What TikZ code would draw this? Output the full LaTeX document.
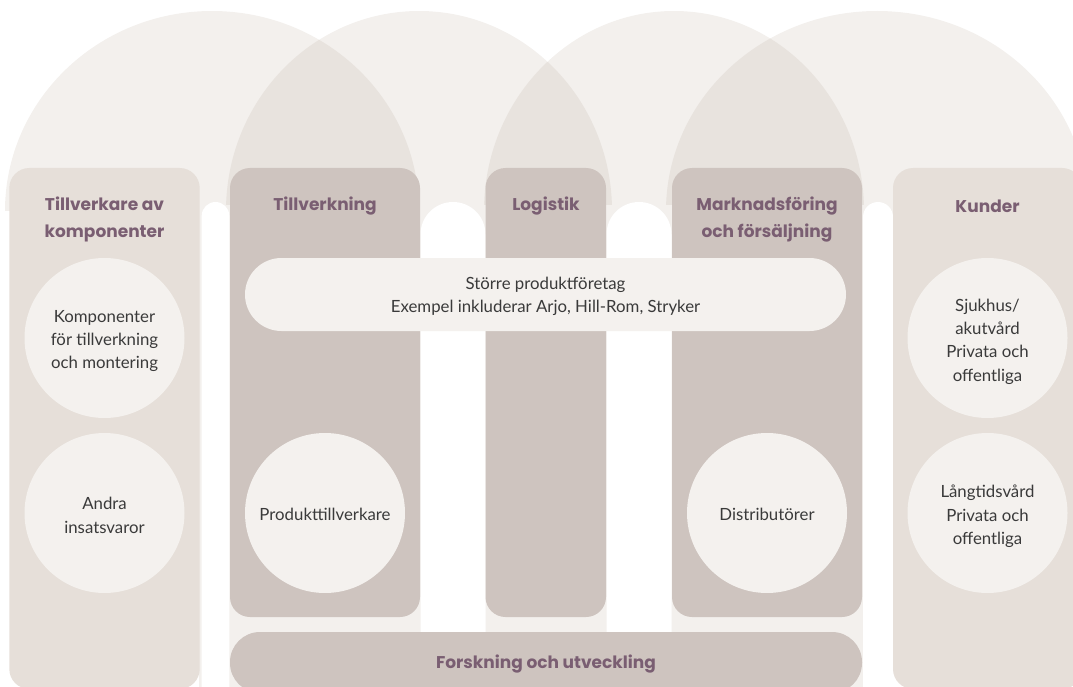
\documentclass[tikz,border=0pt]{standalone}
\usepackage{fontspec}
\setmainfont{Lato}
\newfontfamily\headfont{Poppins}
\definecolor{archc}{HTML}{F3F0ED}
\definecolor{overc}{HTML}{E8E3DE}
\definecolor{outerc}{HTML}{E6DFD9}
\definecolor{innerc}{HTML}{CEC4BF}
\definecolor{bubblec}{HTML}{F4F1EE}
\definecolor{headc}{HTML}{7A5E72}
\definecolor{bodyc}{HTML}{3A3A3A}
\begin{document}
\begin{tikzpicture}[x=1pt,y=-1pt,
  colbox/.style={rectangle,rounded corners=20pt,inner sep=0pt,draw=none},
  outerbox/.style={colbox,fill=outerc},
  innerbox/.style={colbox,fill=innerc},
  bubble/.style={circle,fill=bubblec,minimum size=160pt,inner sep=0pt},
  btext/.style={align=center,text=bodyc,inner sep=0pt,
    font={\fontsize{16.8}{23.4}\selectfont}},
  heading/.style={align=center,text=headc,inner sep=0pt,
    font={\headfont\bfseries\fontsize{17}{27}\selectfont}},
  slot/.style={fill=white,rounded corners=#1}
]
\useasboundingbox (0,0) rectangle (1073,687);
% arches
\begin{scope}
  \clip (0,0) rectangle (1073,211);
  \fill[archc] (212,211) ellipse [x radius=207, y radius=200];
  \fill[archc] (419,211) ellipse [x radius=193, y radius=200];
  \fill[archc] (674,211) ellipse [x radius=190, y radius=200];
  \fill[archc] (877,211) ellipse [x radius=211, y radius=200];
  \begin{scope}
    \clip (212,211) ellipse [x radius=207, y radius=200];
    \fill[overc] (419,211) ellipse [x radius=193, y radius=200];
  \end{scope}
  \begin{scope}
    \clip (419,211) ellipse [x radius=193, y radius=200];
    \fill[overc] (674,211) ellipse [x radius=190, y radius=200];
  \end{scope}
  \begin{scope}
    \clip (674,211) ellipse [x radius=190, y radius=200];
    \fill[overc] (877,211) ellipse [x radius=211, y radius=200];
  \end{scope}
\end{scope}
% backdrop below arches
\fill[archc] (10,205) rectangle (1070,240);
\fill[archc] (199,205) rectangle (865,687);
% white slots
\fill[slot=13.8pt] (201.7,202) rectangle (229.3,720);
\fill[slot=32.5pt] (420.5,202) rectangle (485.5,720);
\fill[slot=32.5pt] (606.5,202) rectangle (671.5,720);
\fill[slot=15pt] (863,202) rectangle (893,720);
% columns
\node[outerbox,minimum width=190.4pt,minimum height=521pt] (col1) at (104.5,428.5) {};
\node[innerbox,minimum width=190pt,minimum height=449pt] (col2) at (325,392.5) {};
\node[innerbox,minimum width=120.5pt,minimum height=449pt] (col3) at (545.75,392.5) {};
\node[innerbox,minimum width=190pt,minimum height=449pt] (col4) at (767,392.5) {};
\node[outerbox,minimum width=189pt,minimum height=521pt] (col5) at (987.5,428.5) {};
% R&D bar
\node[rectangle,fill=innerc,rounded corners=30pt,minimum width=632pt,minimum height=61pt,
  inner sep=0pt] (rd) at (546,662.5) {};
\node[heading] (rdtext) at (546,664.5) {Forskning och utveckling};
% large product companies pill
\node[rectangle,fill=bubblec,rounded corners=36.5pt,minimum width=601pt,minimum height=73pt,
  inner sep=0pt] (big) at (545.5,294.5) {};
\node[btext] (bigtext) at ([yshift=-2pt]big.center)
  {Större produktföretag\\Exempel inkluderar Arjo, Hill-Rom, Stryker};
% headings
\node[heading] (h1) at (104.5,219.5) {Tillverkare av\\komponenter};
\node[heading] (h2) at (325,206) {Tillverkning};
\node[heading] (h3) at (546,206) {Logistik};
\node[heading] (h4) at (767,219.5) {Marknadsföring\\och försäljning};
\node[heading] (h5) at (987.5,206) {Kunder};
% bubbles
\node[bubble] (b1) at (104.5,338) {};
\node[bubble] (b2) at (104.5,513) {};
\node[bubble] (b3) at (325,513) {};
\node[bubble] (b4) at (767,513) {};
\node[bubble] (b5) at (987.5,338) {};
\node[bubble] (b6) at (987.5,513) {};
\node[btext] (t1) at ([yshift=-3pt]b1.center) {Komponenter\\för tillverkning\\och montering};
\node[btext] (t2) at ([yshift=-2.5pt]b2.center) {Andra\\insatsvaror};
\node[btext] (t3) at ([yshift=-1pt]b3.center) {Produkttillverkare};
\node[btext] (t4) at ([yshift=-1pt]b4.center) {Distributörer};
\node[btext] (t5) at ([yshift=-3.5pt]b5.center) {Sjukhus/\\akutvård\\Privata och\\offentliga};
\node[btext] (t6) at ([yshift=-3.5pt]b6.center) {Långtidsvård\\Privata och\\offentliga};
\end{tikzpicture}
\end{document}
